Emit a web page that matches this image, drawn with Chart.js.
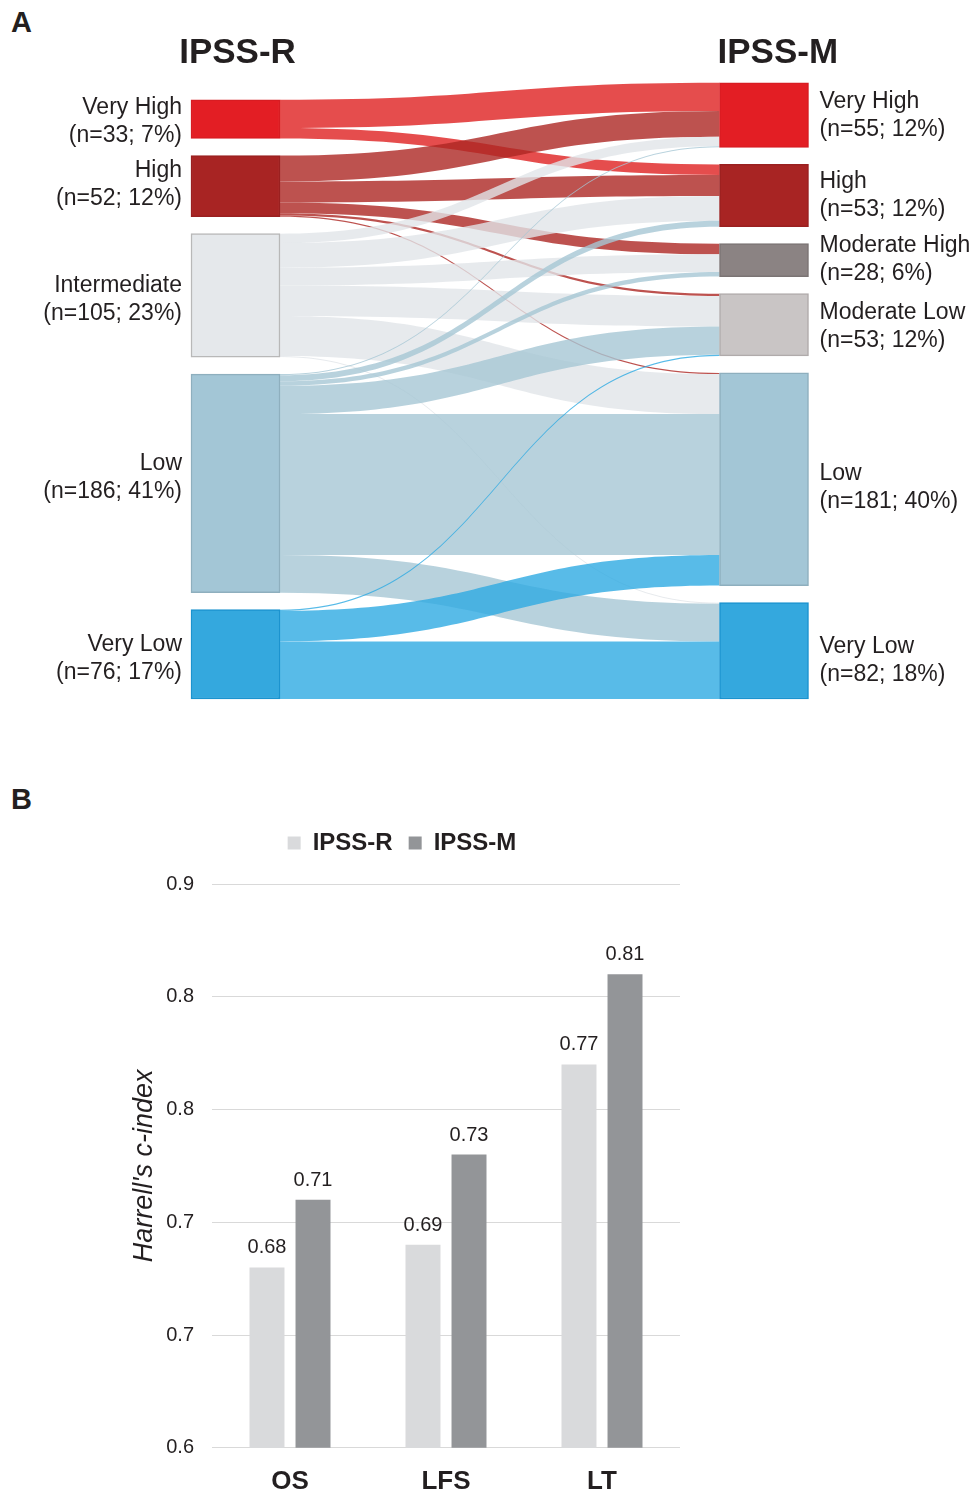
<!DOCTYPE html>
<html>
<head>
<meta charset="utf-8">
<script src="https://cdn.jsdelivr.net/npm/chart.js@4.4.1/dist/chart.umd.min.js"></script>
<style>
  body { margin: 0; background: #fff; width: 973px; height: 1495px; position: relative; overflow: hidden;
         font-family: "Liberation Sans", Arial, sans-serif; color: #231f20; }
  .panel { position: absolute; font-weight: bold; font-size: 29px; line-height: 1; }
  #sankey { position: absolute; left: 0; top: 0; }
  #cindex { position: absolute; left: 0; top: 811px; }
</style>
</head>
<body>
<div class="panel" style="left:11px;top:8px">A</div>
<div class="panel" style="left:11px;top:785px">B</div>
<canvas id="sankey" width="973" height="730"></canvas>
<canvas id="cindex" width="812" height="704"></canvas>
<script>
// ---- Panel A : IPSS-R -> IPSS-M restratification ----
const ipssR = ['Very High', 'High', 'Intermediate', 'Low', 'Very Low'];
const ipssRN = [33, 52, 105, 186, 76];
const ipssRPct = [7, 12, 23, 41, 17];

const ipssM = ['Very High', 'High', 'Moderate High', 'Moderate Low', 'Low', 'Very Low'];
const ipssMN = [55, 53, 28, 53, 181, 82];
const ipssMPct = [12, 12, 6, 12, 40, 18];

// patients moving from each IPSS-R group to the IPSS-M groups (VH, H, MH, ML, L, VL)
const fromVeryHigh = [24, 9, 0, 0, 0, 0];
const fromHigh = [22, 18, 9, 2, 1, 0];
const fromIntermediate = [8, 21, 15, 26, 34, 1];
const fromLow = [1, 5, 4, 24, 120, 32];
const fromVeryLow = [0, 0, 0, 1, 26, 49];
const flows = [fromVeryHigh, fromHigh, fromIntermediate, fromLow, fromVeryLow];

// ---- Panel B : Harrell's c-index ----
const outcomes = ['OS', 'LFS', 'LT'];
const cIndexR = [0.68, 0.69, 0.77];
const cIndexM = [0.71, 0.73, 0.81];
const yTickLabels = ['0.6', '0.7', '0.7', '0.8', '0.8', '0.9'];

// colours
const nodeColorR = ['#e31e24', '#a82423', '#e5e8eb', '#a3c6d6', '#34a8de'];
const nodeBorderR = ['#d81c22', '#9a2020', '#b8b8b8', '#8eafbe', '#1b93cf'];
const nodeColorM = ['#e31e24', '#a82423', '#8b8383', '#c9c5c5', '#a3c6d6', '#34a8de'];
const nodeBorderM = ['#d81c22', '#9a2020', '#7b7474', '#b0abab', '#8eafbe', '#1b93cf'];
const flowColor = ['rgba(222,32,32,0.8)', 'rgba(172,39,35,0.8)', 'rgba(225,229,232,0.8)',
                   'rgba(166,199,212,0.8)', 'rgba(46,170,226,0.8)'];
const ink = '#231f20';

// label nudges (px) so the two-line labels sit where the original puts them
const labelShiftR = [3, -1, 4, -6, 4];
const labelShiftM = [1, 0, 0, 2, 8, 10];

Chart.defaults.font.family = '"Liberation Sans", Arial, sans-serif';
Chart.defaults.color = ink;

// sankey geometry (in patient units on the y scale)
const PX_PER_CASE = 1.175;
const GAP = 14.5;
const BOTTOM = 699 / PX_PER_CASE;

function stackColumn(counts) {
  const total = counts.reduce((a, b) => a + b, 0) + GAP * (counts.length - 1);
  let y = BOTTOM - total;
  return counts.map(n => { const r = [y, y + n]; y += n + GAP; return r; });
}
const rRanges = stackColumn(ipssRN);
const mRanges = stackColumn(ipssMN);

const sankeyFlows = {
  id: 'sankeyFlows',
  beforeDatasetsDraw(chart) {
    const ctx = chart.ctx, ys = chart.scales.y;
    const L = chart.getDatasetMeta(0).data[0], R = chart.getDatasetMeta(1).data[0];
    const x0 = L.x + L.width / 2, x1 = R.x - R.width / 2, xm = (x0 + x1) / 2;

    const start = flows.map((row, i) => {
      let o = rRanges[i][0];
      return row.map(n => { const s = o; o += n; return s; });
    });
    const end = flows.map(row => row.map(() => 0));
    ipssM.forEach((_, j) => {
      let o = mRanges[j][0];
      flows.forEach((row, i) => { end[i][j] = o; o += row[j]; });
    });

    ctx.save();
    flows.forEach((row, i) => row.forEach((n, j) => {
      if (!n) return;
      const sy0 = ys.getPixelForValue(start[i][j]), sy1 = ys.getPixelForValue(start[i][j] + n);
      const ty0 = ys.getPixelForValue(end[i][j]), ty1 = ys.getPixelForValue(end[i][j] + n);
      ctx.beginPath();
      ctx.moveTo(x0, sy0);
      ctx.bezierCurveTo(xm, sy0, xm, ty0, x1, ty0);
      ctx.lineTo(x1, ty1);
      ctx.bezierCurveTo(xm, ty1, xm, sy1, x0, sy1);
      ctx.closePath();
      ctx.fillStyle = flowColor[i];
      ctx.fill();
    }));
    ctx.restore();
  },
  afterDraw(chart) {
    const ctx = chart.ctx;
    const L = chart.getDatasetMeta(0).data, R = chart.getDatasetMeta(1).data;
    ctx.save();
    ctx.fillStyle = ink;
    ctx.textBaseline = 'middle';
    ctx.font = 'bold 35px "Liberation Sans", Arial, sans-serif';
    ctx.textAlign = 'center';
    ctx.fillText('IPSS-R', L[0].x + 2, 53);
    ctx.textAlign = 'left';
    ctx.fillText('IPSS-M', R[0].x - R[0].width / 2 - 2, 53);

    ctx.font = '23px "Liberation Sans", Arial, sans-serif';
    const drawLabel = (el, lines, x, align, shift) => {
      const cy = (el.y + el.base) / 2 + shift;
      ctx.textAlign = align;
      ctx.fillText(lines[0], x, cy - 14);
      ctx.fillText(lines[1], x, cy + 14);
    };
    L.forEach((el, i) => drawLabel(el, [ipssR[i], `(n=${ipssRN[i]}; ${ipssRPct[i]}%)`],
      el.x - el.width / 2 - 9, 'right', labelShiftR[i]));
    R.forEach((el, i) => drawLabel(el, [ipssM[i], `(n=${ipssMN[i]}; ${ipssMPct[i]}%)`],
      el.x + el.width / 2 + 11, 'left', labelShiftM[i]));
    ctx.restore();
  }
};

new Chart(document.getElementById('sankey'), {
  type: 'bar',
  data: {
    datasets: [
      { data: rRanges.map(r => ({ x: 0, y: r })), backgroundColor: nodeColorR, borderColor: nodeBorderR },
      { data: mRanges.map(r => ({ x: 1, y: r })), backgroundColor: nodeColorM, borderColor: nodeBorderM }
    ]
  },
  options: {
    responsive: false,
    animation: false,
    datasets: { bar: { barThickness: 89, borderWidth: 1.5, borderSkipped: false, grouped: false } },
    layout: { padding: 0 },
    plugins: { legend: { display: false }, tooltip: { enabled: false } },
    scales: {
      x: { type: 'linear', display: false, offset: false, min: -235.5 / 528.5, max: (973 - 235.5) / 528.5 },
      y: { type: 'linear', display: false, reverse: true, min: 0, max: 730 / PX_PER_CASE }
    }
  },
  plugins: [sankeyFlows]
});

// value labels above the bars in panel B
const valueLabels = {
  id: 'valueLabels',
  beforeInit(chart) {
    // extra room between the legend and the plot
    const fit = chart.legend.fit;
    chart.legend.fit = function () { fit.call(this); this.height += 19; };
  },
  afterDatasetsDraw(chart) {
    const ctx = chart.ctx;
    ctx.save();
    ctx.fillStyle = ink;
    ctx.font = '20px "Liberation Sans", Arial, sans-serif';
    ctx.textAlign = 'center';
    ctx.textBaseline = 'alphabetic';
    chart.data.datasets.forEach((ds, d) => {
      chart.getDatasetMeta(d).data.forEach((bar, i) => {
        ctx.fillText(ds.data[i].toFixed(2), bar.x, bar.y - 14);
      });
    });
    ctx.restore();
  }
};

new Chart(document.getElementById('cindex'), {
  type: 'bar',
  data: {
    labels: outcomes,
    datasets: [
      { label: 'IPSS-R', data: cIndexR, backgroundColor: '#d9dadc' },
      { label: 'IPSS-M', data: cIndexM, backgroundColor: '#939598' }
    ]
  },
  options: {
    responsive: false,
    animation: false,
    datasets: { bar: { categoryPercentage: 0.59, barPercentage: 0.76 } },
    layout: { padding: { left: 124, right: 132, top: 4, bottom: 0 } },
    plugins: {
      tooltip: { enabled: false },
      legend: {
        labels: { boxWidth: 13, boxHeight: 13, padding: 16, color: ink,
                  font: { size: 24, weight: 'bold' } }
      }
    },
    scales: {
      x: {
        grid: { display: false, drawTicks: false },
        border: { display: false },
        ticks: { color: ink, padding: 18, font: { size: 26, weight: 'bold' } }
      },
      y: {
        min: 0.6,
        max: 0.85,
        afterFit(scale) { scale.width = 88; },
        ticks: { stepSize: 0.05, padding: 18, color: ink, font: { size: 20 },
                 callback: (v, i) => yTickLabels[i] },
        grid: { color: '#d9d9d9', drawTicks: false },
        border: { display: false },
        title: { display: true, text: "Harrell's c-index", color: ink,
                 font: { size: 27, style: 'italic' } }
      }
    }
  },
  plugins: [valueLabels]
});
</script>
</body>
</html>
